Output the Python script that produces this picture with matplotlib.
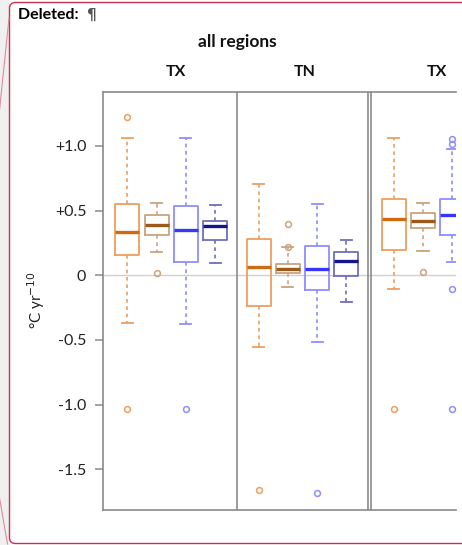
import matplotlib
matplotlib.use("Agg")
import matplotlib.pyplot as plt
from matplotlib.patches import FancyBboxPatch, Rectangle
from matplotlib.lines import Line2D
from matplotlib.transforms import IdentityTransform

plt.rcParams['font.family'] = ['Lato', 'DejaVu Sans']

# ---- data ----
panel_titles = ["TX", "TN", "TX"]
series_names = ["orange", "brown", "blue", "navy"]

# each row: whishi, q3, median, q1, whislo
tx1_stats = [[1.064, 0.549, 0.332, 0.159, -0.371],
             [0.556, 0.464, 0.391, 0.314, 0.178],
             [1.064, 0.538, 0.350, 0.105, -0.379],
             [0.541, 0.417, 0.381, 0.275, 0.093]]
tx1_fliers = [[1.221, -1.033], [0.020], [-1.033], []]

tn_stats = [[0.706, 0.281, 0.064, -0.237, -0.552],
            [0.216, 0.087, 0.049, 0.020, -0.088],
            [0.551, 0.224, 0.051, -0.114, -0.513],
            [0.273, 0.180, 0.108, -0.008, -0.204]]
tn_fliers = [[-1.660], [0.394, 0.220], [-1.685], []]

tx2_stats = [[1.064, 0.592, 0.437, 0.198, -0.104],
             [0.556, 0.481, 0.420, 0.366, 0.188],
             [0.974, 0.590, 0.464, 0.311, 0.105]]
tx2_fliers = [[-1.033], [0.023], [1.052, 1.015, -0.104, -1.033]]

y_ticks = [-1.5, -1.0, -0.5, 0.0, 0.5, 1.0]
y_tick_labels = ["-1.5", "-1.0", "-0.5", "0", "+0.5", "+1.0"]

# ---- styles ----
box_cols = ['#EE9E5E', '#C9A47E', '#8E8EFF', '#6E6EBA']
med_cols = ['#D06A12', '#9A5A1C', '#3636FF', '#14148C']

W, H = 462, 545
fig = plt.figure(figsize=(W / 100, H / 100), dpi=100)
fig.patch.set_facecolor('white')

# Word comment balloon background
fig.add_artist(Rectangle((0, 0), 9.5, H, transform=IdentityTransform(),
                         facecolor='#F0F0F0', edgecolor='none', zorder=0))
fig.add_artist(FancyBboxPatch((9.5, 1.5), 470, H - 4,
                              boxstyle="round,pad=0,rounding_size=6",
                              transform=IdentityTransform(),
                              facecolor='white', edgecolor='#C8304E',
                              linewidth=1.0, zorder=1))
for (x0, y0, x1, y1) in [(9, H - 18, -1, H - 115), (-1, H - 495, 7.5, 1)]:
    fig.add_artist(Line2D([x0, x1], [y0, y1], transform=IdentityTransform(),
                          color='#E38A9C', linewidth=0.8, zorder=2))

fig.text(18 / W, 1 - 15 / H, "Deleted: ", fontsize=11.5, fontweight='bold',
         ha='left', va='center', color='black')
fig.text(86 / W, 1 - 15 / H, "¶", fontsize=11, fontweight='bold',
         ha='left', va='center', color='#555555', family=['DejaVu Sans'])

# axes in pixel layout
left, right, top, bottom = 103, 456, 92, 510
ax = fig.add_axes([left / W, 1 - bottom / H, (right - left) / W, (bottom - top) / H])
ax.set_zorder(3)
ax.patch.set_alpha(0)

px_per = 29.3
group_start = [0.0, 4.48, 9.09]
ax.set_xlim((left - 127.3) / px_per, (right - 127.3) / px_per)
ax.set_ylim(-1.814, 1.4165)

ax.axhline(0, color='#D0D0D0', linewidth=1.0, zorder=1)

groups = [(tx1_stats, tx1_fliers), (tn_stats, tn_fliers), (tx2_stats, tx2_fliers)]
for g, (stats, fliers) in enumerate(groups):
    for i, (row, fl) in enumerate(zip(stats, fliers)):
        whishi, q3, med, q1, whislo = row
        st = dict(med=med, q1=q1, q3=q3, whislo=whislo, whishi=whishi, fliers=fl)
        c = box_cols[i]
        ax.bxp([st], positions=[group_start[g] + i], widths=0.82,
               capwidths=0.38, showfliers=True, patch_artist=False,
               boxprops=dict(color=c, linewidth=1.3),
               whiskerprops=dict(color=c, linewidth=1.2, linestyle=(0, (2.2, 2.2))),
               capprops=dict(color=c, linewidth=1.3),
               medianprops=dict(color=med_cols[i], linewidth=2.4),
               flierprops=dict(marker='o', markersize=4.2, markerfacecolor='none',
                               markeredgecolor=c, markeredgewidth=1.1, linestyle='none'),
               manage_ticks=False)

# panel dividers
for xp in [237, 368, 370.5]:
    ax.axvline((xp - 127.3) / px_per, color='#8A8A8A', linewidth=1.2, zorder=4)

for s in ['left', 'bottom', 'top']:
    ax.spines[s].set_color('#8A8A8A')
    ax.spines[s].set_linewidth(1.2)
ax.spines['right'].set_visible(False)

ax.set_xticks([])
ax.set_yticks(y_ticks)
ax.set_yticklabels(y_tick_labels, fontsize=11.5, color='#222222')
ax.tick_params(axis='y', length=6, width=1.1, color='#8A8A8A', pad=6)

ax.set_ylabel("°C yr$^{-10}$", fontsize=11, color='#222222')
ax.yaxis.set_label_coords((47 - left) / (right - left), (bottom - 300) / (bottom - top))

# titles
fig.text(237 / W, 1 - 42 / H, "all regions", fontsize=12.5, fontweight='bold',
         ha='center', va='center', color='#111111')
title_x_px = [176, 305, 437]
for t, xp in zip(panel_titles, title_x_px):
    fig.text(xp / W, 1 - 72 / H, t, fontsize=11.5, fontweight='bold',
             ha='center', va='center', color='#111111')

fig.savefig("out.png", dpi=100)
